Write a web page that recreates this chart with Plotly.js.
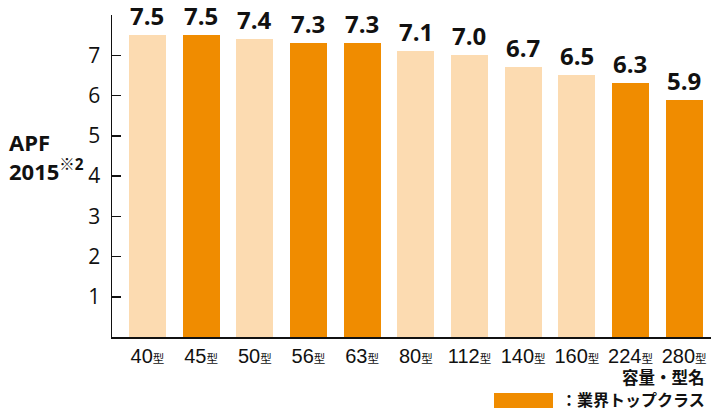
<!DOCTYPE html>
<html>
<head>
<meta charset="utf-8">
<script src="https://cdn.plot.ly/plotly-3.0.1.min.js"></script>
<style>html,body{margin:0;padding:0;background:#fff;}#chart{width:711px;height:410px;}</style>
</head>
<body>
<div id="chart"></div>
<script>
const categories = ["40", "45", "50", "56", "63", "80", "112", "140", "160", "224", "280"];
const values = [7.5, 7.5, 7.4, 7.3, 7.3, 7.1, 7.0, 6.7, 6.5, 6.3, 5.9];
const industryTop = [false, true, false, true, true, false, false, false, false, true, true];
const yTicks = [1, 2, 3, 4, 5, 6, 7];
const unitSuffix = "型";
const yTitleLines = ["APF", "2015"];
const yTitleNote = "※2";
const xTitle = "容量・型名";
const legendLabel = "：業界トップクラス";

const LIGHT = "#FCDBB1";
const DARK = "#F08C00";

const L = 112, R = 0, T = 15, B = 73, W = 711, H = 410;
const pw = W - L - R, ph = H - T - B;
const px = x => (x - L) / pw;
const py = y => (H - B - y) / ph;

const cjk = "'Noto Sans CJK JP', 'Noto Sans', sans-serif";
const xIdx = categories.map((c, i) => i);

const trace = {
  type: "bar",
  x: xIdx,
  y: values,
  width: 0.69,
  marker: { color: industryTop.map(t => t ? DARK : LIGHT), line: { width: 0 } },
  hoverinfo: "none"
};

const valueLabels = values.map((v, i) => ({
  xref: "x", yref: "y", x: xIdx[i], y: v,
  xanchor: "center", yanchor: "bottom", yshift: 2, borderpad: 0,
  text: "<b>" + v.toFixed(1) + "</b>", showarrow: false,
  font: { family: "'Open Sans', 'Noto Sans', sans-serif", size: 24, color: "#111" }
}));

const layout = {
  width: W, height: H,
  margin: { l: L, r: R, t: T, b: B, pad: 0 },
  paper_bgcolor: "#fff", plot_bgcolor: "#fff",
  showlegend: false,
  bargap: 0,
  xaxis: {
    range: [-0.66, 10.5],
    tickmode: "array",
    tickvals: xIdx,
    ticktext: categories.map(c => c + "<span style='font-size:11.5px;font-family:Noto Sans CJK JP'>" + unitSuffix + "</span>"),
    tickfont: { family: "'Liberation Sans Narrow', 'Liberation Sans', sans-serif", size: 20, color: "#111" },
    ticks: "",
    showline: true, linecolor: "#111", linewidth: 2,
    showgrid: false, zeroline: false,
    fixedrange: true
  },
  yaxis: {
    range: [0, 8],
    tickmode: "array",
    tickvals: yTicks,
    ticktext: yTicks.map(String),
    ticks: "inside", ticklen: 9, tickwidth: 1.5, tickcolor: "#111",
    tickfont: { family: "'Open Sans', 'Noto Sans', sans-serif", size: 21, color: "#111" },
    ticklabelstandoff: 6,
    showline: true, linecolor: "#111", linewidth: 1.5,
    showgrid: false, zeroline: false,
    fixedrange: true
  },
  annotations: valueLabels.concat([
    {
      xref: "paper", yref: "paper",
      x: px(7), y: py(156), xanchor: "left", yanchor: "middle",
      text: "<b>" + yTitleLines[0] + "<br>" + yTitleLines[1] + "<sup>" + yTitleNote + "</sup></b>",
      align: "left", showarrow: false,
      font: { family: "'Open Sans', 'Noto Sans CJK JP', sans-serif", size: 22, color: "#111" }
    },
    {
      xref: "paper", yref: "paper",
      x: px(706), y: py(376.5), xanchor: "right", yanchor: "middle", borderpad: 0,
      text: "<b>" + xTitle + "</b>", showarrow: false,
      font: { family: cjk, size: 16.5, color: "#111" }
    },
    {
      xref: "paper", yref: "paper",
      x: px(706), y: py(398.5), xanchor: "right", yanchor: "middle", borderpad: 0,
      text: "<b>" + legendLabel + "</b>", showarrow: false,
      font: { family: cjk, size: 16, color: "#111" }
    }
  ]),
  shapes: [
    {
      type: "rect", xref: "paper", yref: "paper",
      x0: px(494), x1: px(553), y0: py(408), y1: py(393),
      fillcolor: DARK, line: { width: 0 }
    }
  ]
};

Plotly.newPlot("chart", [trace], layout, { staticPlot: true, displayModeBar: false });
</script>
</body>
</html>
